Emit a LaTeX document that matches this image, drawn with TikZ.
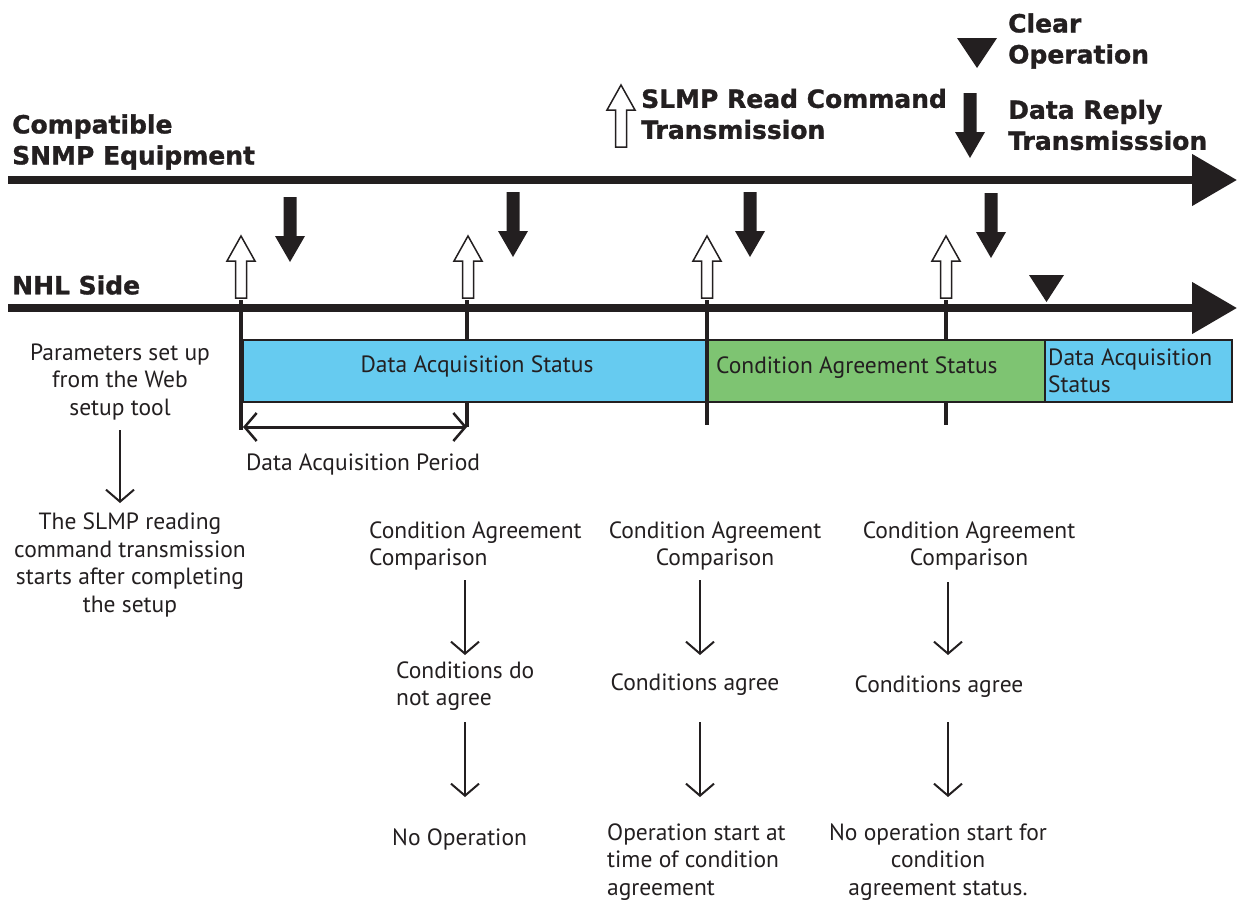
\documentclass[tikz,border=0pt]{standalone}
\usepackage{fontspec}
\setmainfont{PT Sans}
\newfontfamily\headfont{DejaVu Sans}[BoldFeatures={FakeBold=1.2}]
\usetikzlibrary{arrows.meta}
\definecolor{ink}{RGB}{35,31,32}
\definecolor{acqblue}{RGB}{102,203,240}
\definecolor{condgreen}{RGB}{126,196,114}
\begin{document}
\begin{tikzpicture}[x=1pt,y=-1pt,
  txt/.style={font=\fontsize{23.5}{27.5}\selectfont, text=ink, inner sep=0pt, align=center},
  txtl/.style={txt, align=left, anchor=west},
  head/.style={font=\headfont\bfseries\fontsize{25}{31}\selectfont, text=ink, inner sep=0pt, align=left, anchor=west},
  axis/.style={line width=8pt, draw=ink, -{Triangle[length=45pt,width=50pt]}},
  tick/.style={line width=3.5pt, draw=ink},
  flow/.style={line width=2.2pt, draw=ink, -{Straight Barb[length=12pt,width=28pt,line width=2pt]}},
  dim/.style={line width=3pt, draw=ink, {Straight Barb[length=12pt,width=28pt,line width=2.5pt]}-{Straight Barb[length=12pt,width=28pt,line width=2.5pt]}},
  statebox/.style={draw=ink, line width=1.5pt},
  sendarrow/.pic={\draw[ink, line width=1.5pt, fill=white] (-5.5,62) -- (-5.5,25) -- (-14,25) -- (0,0) -- (14,25) -- (5.5,25) -- (5.5,62) -- cycle;},
  replyarrow/.pic={\fill[ink] (-6.5,-65) -- (-6.5,-26) -- (-15,-26) -- (0,0) -- (15,-26) -- (6.5,-26) -- (6.5,-65) -- cycle;},
  cleartri/.style={fill=ink}
]
\useasboundingbox (0,0) rectangle (1237,902);

% axes
\coordinate (topS) at (8,180);
\coordinate (topE) at (1237,180);
\coordinate (botS) at (8,308);
\coordinate (botE) at (1237,308);
\draw[axis] (topS) -- (topE);
\draw[axis] (botS) -- (botE);

% headings
\node[head] (equip) at (12,142) {Compatible\\SNMP Equipment};
\node[head] (nhl) at (12,285) {NHL Side};

% legend
\pic at (621,85) {sendarrow};
\node[head] (legsend) at (641,114) {SLMP Read Command\\Transmission};
\fill[cleartri] (957,38) -- (997,38) -- (977,68) -- cycle;
\node[head] (legclear) at (1008,41) {Clear\\Operation};
\pic at (970,158) {replyarrow};
\node[head] (legreply) at (1008,125) {Data Reply\\Transmisssion};

% send / reply arrows
\pic at (241,236) {sendarrow};
\pic at (468,236) {sendarrow};
\pic at (707,236) {sendarrow};
\pic at (946,236) {sendarrow};
\pic at (290,262) {replyarrow};
\pic at (513,257) {replyarrow};
\pic at (750,257) {replyarrow};
\pic at (991,258) {replyarrow};
\fill[cleartri] (1029,275) -- (1064,275) -- (1046.5,302) -- cycle;

% ticks (behind the state boxes)
\draw[tick] (241,300) -- (241,430);
\draw[tick] (467,300) -- (467,427);
\draw[tick] (707,300) -- (707,425);
\draw[tick] (946,300) -- (946,425);

% state boxes
\filldraw[statebox, fill=acqblue] (243,340) rectangle (707,402);
\filldraw[statebox, fill=condgreen] (707,340) rectangle (1045,402);
\filldraw[statebox, fill=acqblue] (1045,340) rectangle (1232,402);
\draw[tick] (241,340) -- (241,402);
\draw[tick] (707,340) -- (707,402);
\node[txt] (acq1) at (477,366) {Data Acquisition Status};
\node[txtl] (cond) at (716,368) {Condition Agreement Status};
\node[txtl, align=left] (acq2) at (1048,371) {Data Acquisition\\Status};

% period
\coordinate (perS) at (243,427);
\coordinate (perE) at (467,427);
\draw[dim] (perS) -- (perE);
\node[txt] (period) at (363,464) {Data Acquisition Period};

% left column
\node[txt] (p1) at (120,382) {Parameters set up\\from the Web\\setup tool};
\node[txt] (p2) at (130,565) {The SLMP reading\\command transmission\\starts after completing\\the setup};
\coordinate (xp) at (120,0);
\draw[flow] (xp |- 0,430) -- (xp |- 0,503);

% column 1
\node[txtl] (c1a) at (369,546) {Condition Agreement\\Comparison};
\node[txtl] (c1b) at (396,686) {Conditions do\\not agree};
\node[txtl] (c1c) at (392,839) {No Operation};
\coordinate (x1) at (465,0);
\draw[flow] (x1 |- 0,580) -- (x1 |- 0,655);
\draw[flow] (x1 |- 0,722) -- (x1 |- 0,797);

% column 2
\node[txt] (c2a) at (715,546) {Condition Agreement\\Comparison};
\node[txt] (c2b) at (695,685) {Conditions agree};
\node[txtl] (c2c) at (607,862) {Operation start at\\time of condition\\agreement};
\coordinate (x2) at (700,0);
\draw[flow] (x2 |- 0,580) -- (x2 |- 0,655);
\draw[flow] (x2 |- 0,722) -- (x2 |- 0,797);

% column 3
\node[txt] (c3a) at (969,546) {Condition Agreement\\Comparison};
\node[txt] (c3b) at (939,687) {Conditions agree};
\node[txt] (c3c) at (938,862) {No operation start for\\condition\\agreement status.};
\coordinate (x3) at (948,0);
\draw[flow] (x3 |- 0,582) -- (x3 |- 0,655);
\draw[flow] (x3 |- 0,722) -- (x3 |- 0,797);
\end{tikzpicture}
\end{document}
